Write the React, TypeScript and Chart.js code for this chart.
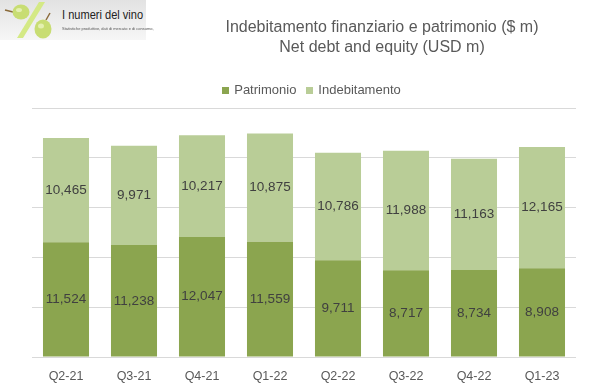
import React, { useEffect, useRef } from "react";
import { Chart, registerables } from "chart.js";

Chart.register(...registerables);

const categories = ["Q2-21", "Q3-21", "Q4-21", "Q1-22", "Q2-22", "Q3-22", "Q4-22", "Q1-23"];
const patrimonio = [11524, 11238, 12047, 11559, 9711, 8717, 8734, 8908];
const indebitamento = [10465, 9971, 10217, 10875, 10786, 11988, 11163, 12165];
const seriesLabels = ["Patrimonio", "Indebitamento"];
const seriesColors = ["#8BA54F", "#B9CD97"];
const titleLines = ["Indebitamento finanziario e patrimonio ($ m)", "Net debt and equity (USD m)"];
const yMax = 25000;
const yStep = 5000;

const valueLabels = {
  id: "valueLabels",
  afterDatasetsDraw(chart: any) {
    const ctx = chart.ctx;
    ctx.save();
    ctx.font = "13.5px 'Liberation Sans', Arial, sans-serif";
    ctx.fillStyle = "#404040";
    ctx.textAlign = "center";
    ctx.textBaseline = "middle";
    chart.data.datasets.forEach((ds: any, di: number) => {
      const meta = chart.getDatasetMeta(di);
      meta.data.forEach((el: any, i: number) => {
        const v = ds.data[i];
        const y = (el.y + el.base) / 2;
        ctx.fillText(v.toLocaleString("en-US"), el.x, y);
      });
    });
    ctx.restore();
  },
};

function Logo() {
  return (
    <div
      style={{
        position: "absolute",
        left: 0,
        top: 0,
        width: 146,
        height: 40,
        background: "linear-gradient(to bottom, #e2e2e2, #f6f6f6)",
      }}
    >
      <svg width="60" height="40" style={{ position: "absolute", left: 0, top: 0 }}>
        <line x1="5" y1="10" x2="13" y2="12" stroke="#8a6a3a" strokeWidth="1.5" />
        <ellipse cx="21" cy="12" rx="8.5" ry="7.5" fill="#c8dd73" />
        <ellipse cx="19" cy="10" rx="3" ry="2" fill="#e4f0b0" />
        <polygon points="17,38 23,38 45,2 39,2" fill="#d4e985" />
        <line x1="46" y1="20" x2="50" y2="13" stroke="#8a6a3a" strokeWidth="1.5" />
        <ellipse cx="43" cy="29" rx="8.5" ry="9.5" fill="#c8dd73" />
        <ellipse cx="41" cy="26" rx="3" ry="2.5" fill="#e4f0b0" />
      </svg>
      <div
        style={{
          position: "absolute",
          left: 62,
          top: 7,
          fontFamily: "'Liberation Sans', Arial, sans-serif",
          fontSize: 13,
          color: "#222",
          whiteSpace: "nowrap",
          lineHeight: "15px",
          transform: "scaleX(0.85)",
          transformOrigin: "left center",
        }}
      >
        I numeri del vino
      </div>
      <div
        style={{
          position: "absolute",
          left: 62,
          top: 26,
          fontFamily: "'Liberation Sans', Arial, sans-serif",
          fontSize: 4,
          color: "#555",
          whiteSpace: "nowrap",
          lineHeight: "5px",
        }}
      >
        Statistiche produttive, dati di mercato e di consumo,
      </div>
    </div>
  );
}

export default function App() {
  const canvasRef = useRef<HTMLCanvasElement | null>(null);

  useEffect(() => {
    if (!canvasRef.current) return;
    const chart = new Chart(canvasRef.current, {
      type: "bar",
      data: {
        labels: categories,
        datasets: [
          {
            label: seriesLabels[0],
            data: patrimonio,
            backgroundColor: seriesColors[0],
            categoryPercentage: 1,
            barPercentage: 0.677,
          },
          {
            label: seriesLabels[1],
            data: indebitamento,
            backgroundColor: seriesColors[1],
            categoryPercentage: 1,
            barPercentage: 0.677,
          },
        ],
      },
      options: {
        animation: false,
        responsive: false,
        devicePixelRatio: 1,
        layout: { padding: { left: 32, right: 18, top: 108, bottom: 7 } },
        plugins: {
          legend: { display: false },
          title: { display: false },
          tooltip: { enabled: false },
        },
        scales: {
          x: {
            stacked: true,
            grid: { display: false, drawTicks: false },
            border: { display: false },
            afterFit(scale: any) {
              scale.height = 26;
            },
            ticks: {
              color: "#595959",
              padding: 12,
              autoSkip: false,
              maxRotation: 0,
              font: { family: "'Liberation Sans', Arial, sans-serif", size: 12.5 },
            },
          },
          y: {
            stacked: true,
            min: 0,
            max: yMax,
            grid: { color: "#d9d9d9", drawTicks: false, lineWidth: 1 },
            border: { display: false },
            ticks: { display: false, stepSize: yStep },
          },
        },
      },
      plugins: [valueLabels],
    });
    return () => chart.destroy();
  }, []);

  return (
    <div
      style={{
        position: "fixed",
        left: 0,
        top: 0,
        width: 594,
        height: 390,
        background: "#fff",
        overflow: "hidden",
      }}
    >
      <canvas ref={canvasRef} width={594} height={390} style={{ position: "absolute", left: 0, top: 0 }} />
      <Logo />
      <div
        style={{
          position: "absolute",
          left: 182,
          top: 17,
          width: 400,
          textAlign: "center",
          fontFamily: "'Liberation Sans Narrow', 'Liberation Sans', Arial, sans-serif",
          fontSize: 16,
          lineHeight: "20px",
          color: "#595959",
        }}
      >
        <div>{titleLines[0]}</div>
        <div>{titleLines[1]}</div>
      </div>
      <div
        style={{
          position: "absolute",
          left: 0,
          width: 623,
          top: 82,
          display: "flex",
          justifyContent: "center",
          alignItems: "center",
          fontFamily: "'Liberation Sans', Arial, sans-serif",
          fontSize: 13,
          lineHeight: "16px",
          color: "#595959",
        }}
      >
        {seriesLabels.map((l, i) => (
          <div key={l} style={{ display: "flex", alignItems: "center", marginRight: i === 0 ? 10 : 0 }}>
            <span style={{ width: 7, height: 7, background: seriesColors[i], marginRight: 5, display: "inline-block" }} />
            <span>{l}</span>
          </div>
        ))}
      </div>
    </div>
  );
}
